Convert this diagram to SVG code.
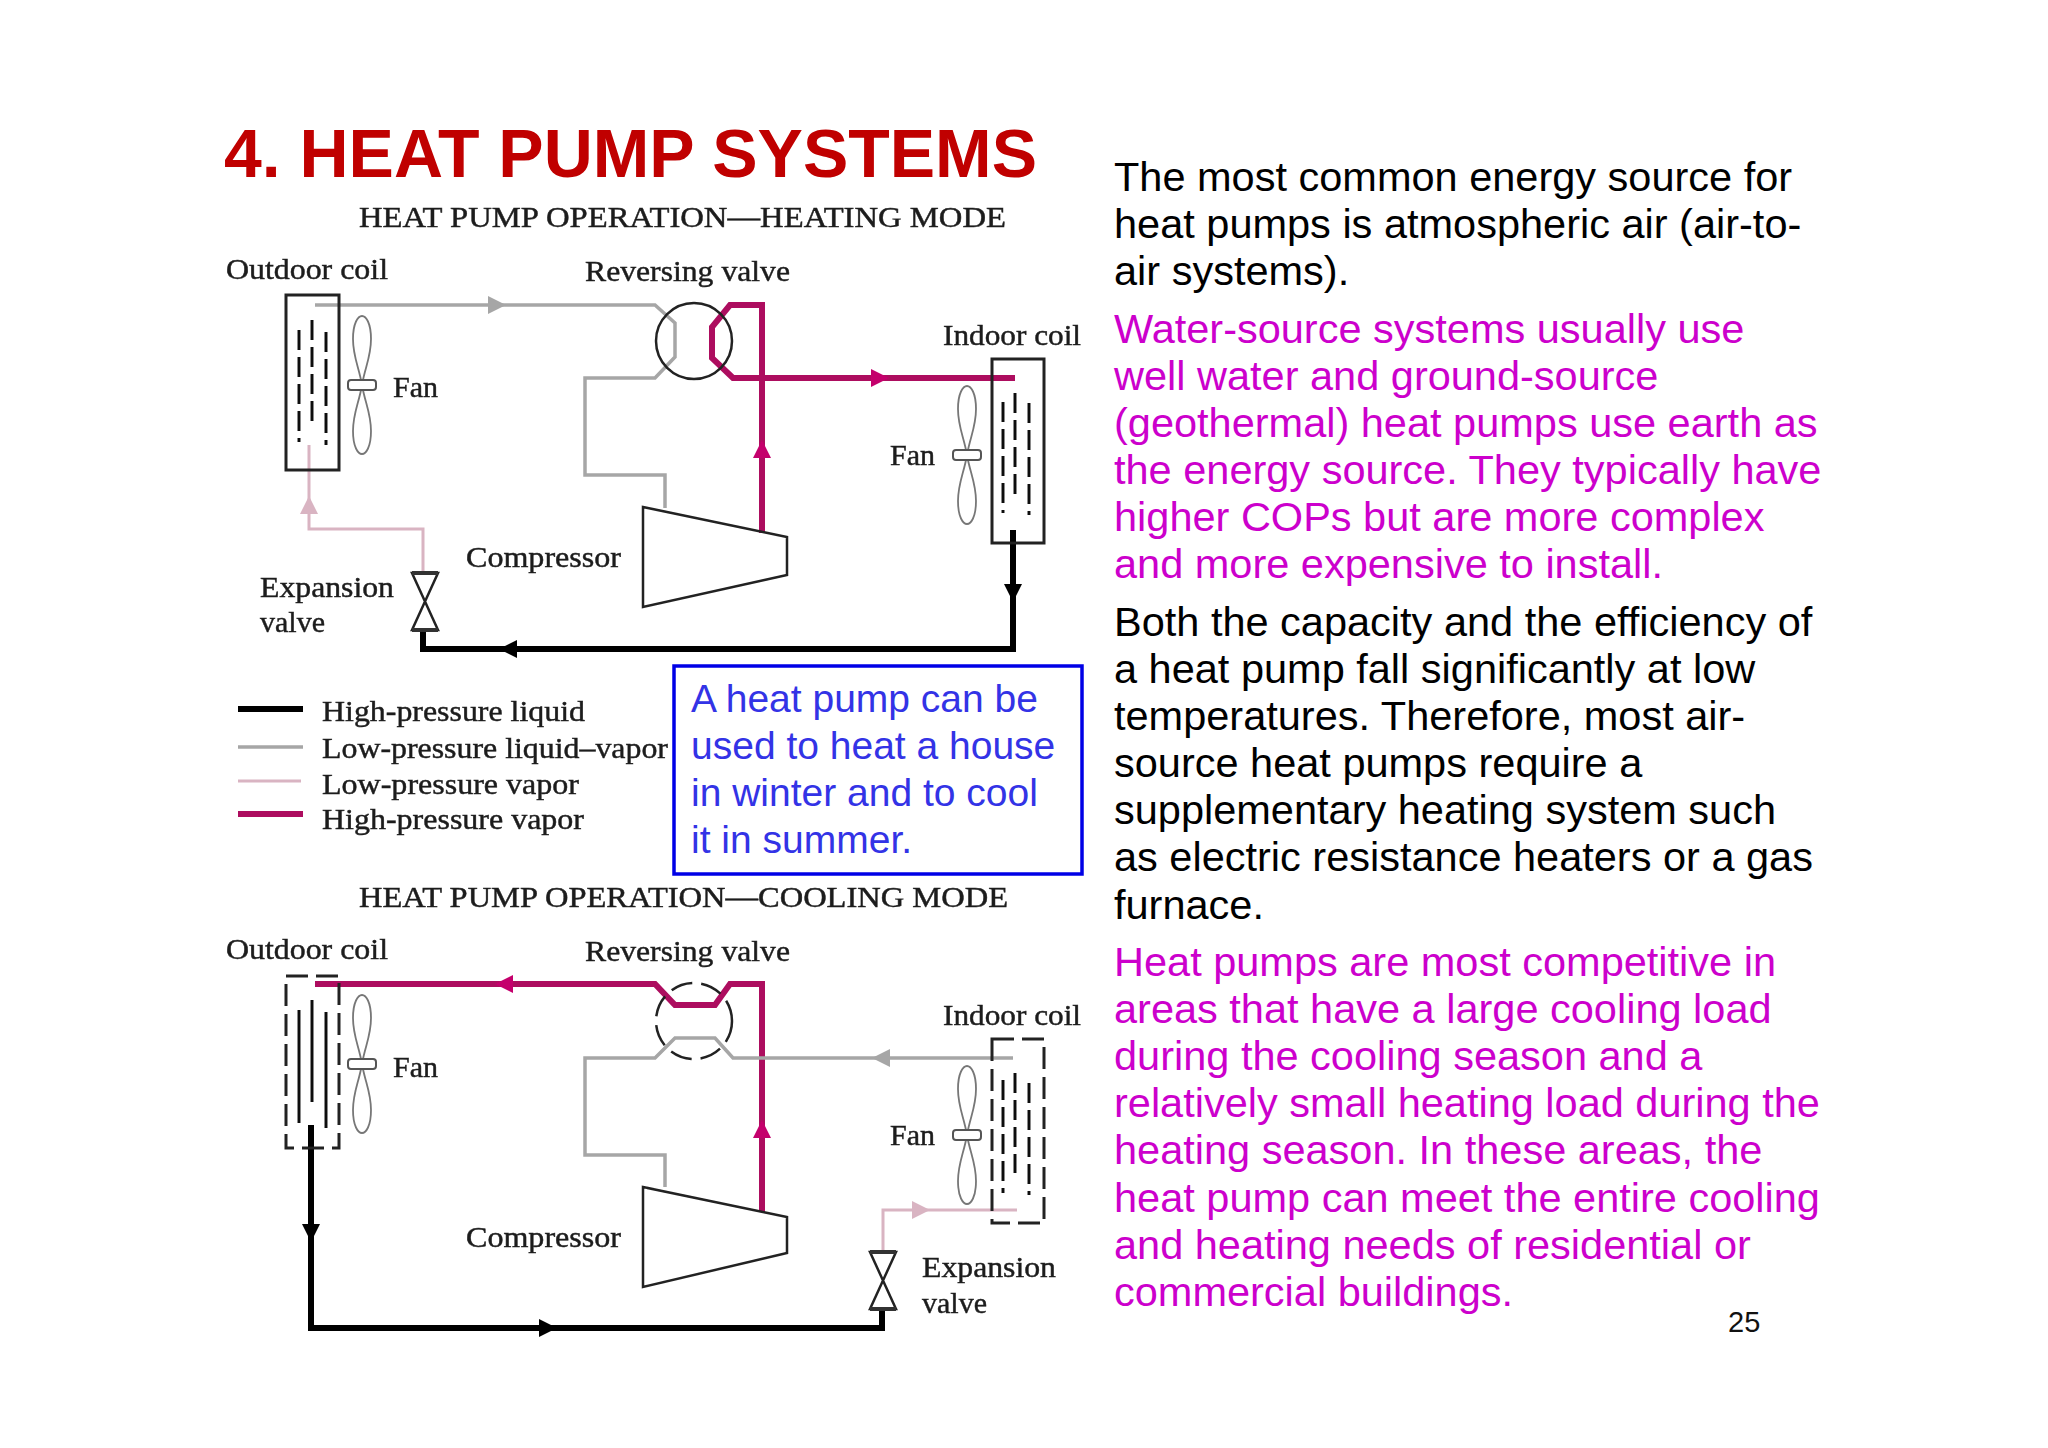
<svg xmlns="http://www.w3.org/2000/svg" width="2048" height="1448" viewBox="0 0 2048 1448">
<style>
.title{font:bold 68px "Liberation Sans",Arial,sans-serif;fill:#c00000}
.body{font:41.5px "Liberation Sans",Arial,sans-serif}
.k{fill:#000}.m{fill:#cc00cc}
.note{font:39px "Liberation Sans",Arial,sans-serif;fill:#3333e6}
.pg{font:29px "Liberation Sans",Arial,sans-serif;fill:#111}
.lbl{font:30px "Liberation Serif","Times New Roman",serif;fill:#1c1c1c;stroke:#1c1c1c;stroke-width:.45}
.pipe{fill:none;stroke-linejoin:miter}
.hl{stroke:#000;stroke-width:6}
.lv{stroke:#a6a6a6;stroke-width:3.5}
.pv{stroke:#d9b4c2;stroke-width:3}
.hv{stroke:#ad0a5e;stroke-width:6}
.ln{fill:none;stroke:#222;stroke-width:2.5}
.coil{fill:none;stroke:#222;stroke-width:3}
.dash{stroke-dasharray:22 8}
.fin{fill:none;stroke:#111;stroke-width:3}
.findash{stroke-dasharray:20 7}
.fanl{fill:none;stroke:#777;stroke-width:1.8}
.box{fill:#fff;stroke:#0000e6;stroke-width:3.5}
.ahk{fill:#000}.ahl{fill:#a6a6a6}.ahp{fill:#d9b4c2}.ahm{fill:#c4006c}
</style>
<defs>
<filter id="soft" x="0" y="0" width="100%" height="100%"><feGaussianBlur stdDeviation="0.55"/></filter>
<g id="fan"><path class="fanl" d="M0 0C-3 -18 -9 -28 -9 -46C-9 -62 -4 -69 0 -69C4 -69 9 -62 9 -46C9 -28 3 -18 0 0Z"/><path class="fanl" d="M0 0C-3 18 -9 28 -9 46C-9 62 -4 69 0 69C4 69 9 62 9 46C9 28 3 18 0 0Z"/><rect x="-14" y="-5" width="28" height="10" rx="3" fill="#fff" stroke="#555" stroke-width="2"/></g>
<g id="xv"><path d="M-13 -29H13L-13 28H13Z" class="ln"/><path d="M-13 -29H13M-13 28H13" stroke="#333" stroke-width="4" fill="none"/></g>
<polygon id="au" points="0,-9 9,9 -9,9"/>
<polygon id="ad" points="0,9 9,-9 -9,-9"/>
<polygon id="al" points="-9,0 9,-9 9,9"/>
<polygon id="ar" points="9,0 -9,-9 -9,9"/>
</defs>
<rect width="2048" height="1448" fill="#fff"/>

<g id="title"><text class="title" x="224" y="177" textLength="813" lengthAdjust="spacingAndGlyphs">4. HEAT PUMP SYSTEMS</text></g>

<g id="body-text" class="body">
<text class="k" x="1114" y="191">The most common energy source for</text>
<text class="k" x="1114" y="238">heat pumps is atmospheric air (air-to-</text>
<text class="k" x="1114" y="285">air systems).</text>
<text class="m" x="1114" y="343">Water-source systems usually use</text>
<text class="m" x="1114" y="390">well water and ground-source</text>
<text class="m" x="1114" y="437">(geothermal) heat pumps use earth as</text>
<text class="m" x="1114" y="484">the energy source. They typically have</text>
<text class="m" x="1114" y="531">higher COPs but are more complex</text>
<text class="m" x="1114" y="578">and more expensive to install.</text>
<text class="k" x="1114" y="636">Both the capacity and the efficiency of</text>
<text class="k" x="1114" y="683">a heat pump fall significantly at low</text>
<text class="k" x="1114" y="730">temperatures. Therefore, most air-</text>
<text class="k" x="1114" y="777">source heat pumps require a</text>
<text class="k" x="1114" y="824">supplementary heating system such</text>
<text class="k" x="1114" y="871">as electric resistance heaters or a gas</text>
<text class="k" x="1114" y="919">furnace.</text>
<text class="m" x="1114" y="976">Heat pumps are most competitive in</text>
<text class="m" x="1114" y="1023">areas that have a large cooling load</text>
<text class="m" x="1114" y="1070">during the cooling season and a</text>
<text class="m" x="1114" y="1117">relatively small heating load during the</text>
<text class="m" x="1114" y="1164">heating season. In these areas, the</text>
<text class="m" x="1114" y="1212">heat pump can meet the entire cooling</text>
<text class="m" x="1114" y="1259">and heating needs of residential or</text>
<text class="m" x="1114" y="1306">commercial buildings.</text>
</g>
<g id="page-number"><text class="pg" x="1728" y="1332">25</text></g>

<g id="note-box">
<rect class="box" x="674" y="666" width="408" height="208"/>
<text class="note" x="691" y="712">A heat pump can be</text>
<text class="note" x="691" y="759">used to heat a house</text>
<text class="note" x="691" y="806">in winter and to cool</text>
<text class="note" x="691" y="853">it in summer.</text>
</g>

<g id="diagram" filter="url(#soft)">
<g id="heating-heading"><text class="lbl" x="359" y="227" textLength="647" lengthAdjust="spacingAndGlyphs">HEAT PUMP OPERATION—HEATING MODE</text></g>
<g id="cooling-heading"><text class="lbl" x="359" y="907" textLength="649" lengthAdjust="spacingAndGlyphs">HEAT PUMP OPERATION—COOLING MODE</text></g>

<g id="connectors">
<path class="pipe lv" d="M315 305H655L675 323V357L655 378H585V475H665V508"/>
<path class="pipe pv" d="M423 573V529H309V445"/>
<path class="pipe hv" d="M762 533V305H730L712 327V358L733 378H1015"/>
<path class="pipe hl" d="M1013 530V649H423V630"/>
<use href="#ar" class="ahl" x="497" y="305"/>
<use href="#au" class="ahp" x="309" y="505"/>
<use href="#au" class="ahm" x="762" y="449"/>
<use href="#ar" class="ahm" x="880" y="378"/>
<use href="#ad" class="ahk" x="1013" y="593"/>
<use href="#al" class="ahk" x="508" y="649"/>
<path class="pipe hv" d="M762 1212V984H730L715 1005H675L655 984H315"/>
<path class="pipe lv" d="M1013 1058H733L715 1038H675L655 1058H585V1155H665V1187"/>
<path class="pipe pv" d="M1017 1210H883V1252"/>
<path class="pipe hl" d="M311 1125V1328H882V1310"/>
<use href="#al" class="ahm" x="504" y="984"/>
<use href="#au" class="ahm" x="762" y="1129"/>
<use href="#al" class="ahl" x="881" y="1058"/>
<use href="#ar" class="ahp" x="921" y="1210"/>
<use href="#ad" class="ahk" x="311" y="1233"/>
<use href="#ar" class="ahk" x="548" y="1328"/>
</g>

<g id="heating-outdoor-coil">
<rect class="coil" x="286" y="295" width="53" height="175"/>
<path class="fin findash" d="M299 330V442M312 320V423M326 332V445"/>
<text class="lbl" x="226" y="279" textLength="162" lengthAdjust="spacingAndGlyphs">Outdoor coil</text>
</g>
<g id="heating-outdoor-fan"><use href="#fan" x="362" y="385"/><text class="lbl" x="393" y="397">Fan</text></g>
<g id="heating-reversing-valve"><circle class="ln" cx="694" cy="341" r="38"/><text class="lbl" x="585" y="281" textLength="205" lengthAdjust="spacingAndGlyphs">Reversing valve</text></g>
<g id="heating-compressor"><polygon class="ln" points="643,507 787,537 787,575 643,607"/><text class="lbl" x="466" y="567" textLength="155" lengthAdjust="spacingAndGlyphs">Compressor</text></g>
<g id="heating-indoor-coil">
<rect class="coil" x="992" y="359" width="52" height="184"/>
<path class="fin findash" d="M1003 402V513M1015 393V495M1029 403V515"/>
<text class="lbl" x="943" y="345" textLength="138" lengthAdjust="spacingAndGlyphs">Indoor coil</text>
</g>
<g id="heating-indoor-fan"><use href="#fan" x="967" y="455"/><text class="lbl" x="890" y="465">Fan</text></g>
<g id="heating-expansion-valve"><use href="#xv" x="425" y="602"/><text class="lbl" x="260" y="597" textLength="134" lengthAdjust="spacingAndGlyphs">Expansion</text><text class="lbl" x="260" y="632">valve</text></g>

<g id="legend">
<path class="hl" d="M238 709H303"/><path class="lv" d="M238 747H303"/><path class="pv" d="M238 781H301"/><path class="hv" d="M238 814H303"/>
<text class="lbl" x="322" y="721" textLength="263" lengthAdjust="spacingAndGlyphs">High-pressure liquid</text>
<text class="lbl" x="322" y="758" textLength="346" lengthAdjust="spacingAndGlyphs">Low-pressure liquid–vapor</text>
<text class="lbl" x="322" y="794" textLength="257" lengthAdjust="spacingAndGlyphs">Low-pressure vapor</text>
<text class="lbl" x="322" y="829" textLength="262" lengthAdjust="spacingAndGlyphs">High-pressure vapor</text>
</g>

<g id="cooling-outdoor-coil">
<rect class="coil dash" x="286" y="976" width="53" height="172"/>
<path class="fin" d="M299 1010V1123M312 1000V1102M326 1012V1128"/>
<text class="lbl" x="226" y="959" textLength="162" lengthAdjust="spacingAndGlyphs">Outdoor coil</text>
</g>
<g id="cooling-outdoor-fan"><use href="#fan" x="362" y="1064"/><text class="lbl" x="393" y="1077">Fan</text></g>
<g id="cooling-reversing-valve"><circle class="ln" cx="694" cy="1021" r="38" stroke-dasharray="22 9"/><text class="lbl" x="585" y="961" textLength="205" lengthAdjust="spacingAndGlyphs">Reversing valve</text></g>
<g id="cooling-compressor"><polygon class="ln" points="643,1187 787,1217 787,1253 643,1287"/><text class="lbl" x="466" y="1247" textLength="155" lengthAdjust="spacingAndGlyphs">Compressor</text></g>
<g id="cooling-indoor-coil">
<rect class="coil dash" x="992" y="1039" width="52" height="184"/>
<path class="fin findash" d="M1003 1080V1193M1015 1073V1173M1029 1083V1195"/>
<text class="lbl" x="943" y="1025" textLength="138" lengthAdjust="spacingAndGlyphs">Indoor coil</text>
</g>
<g id="cooling-indoor-fan"><use href="#fan" x="967" y="1135"/><text class="lbl" x="890" y="1145">Fan</text></g>
<g id="cooling-expansion-valve"><use href="#xv" x="883" y="1281"/><text class="lbl" x="922" y="1277" textLength="134" lengthAdjust="spacingAndGlyphs">Expansion</text><text class="lbl" x="922" y="1313">valve</text></g>
</g>
</svg>
